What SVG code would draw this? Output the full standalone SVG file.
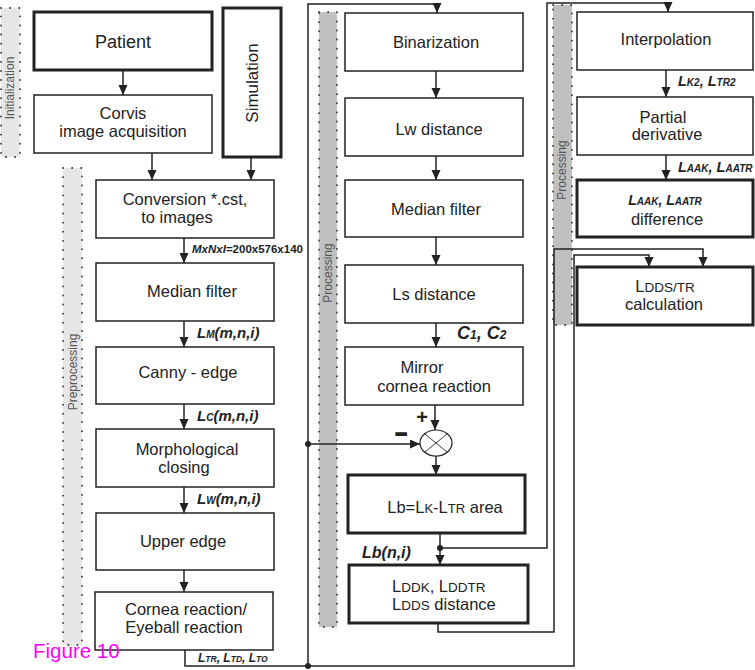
<svg xmlns="http://www.w3.org/2000/svg" width="755" height="670" viewBox="0 0 755 670">
<style>
.box{fill:#fff;stroke:#222;stroke-width:1.5}
.thick{stroke-width:3}
.t{font-family:"Liberation Sans",Arial,sans-serif;font-size:16.5px;fill:#222;text-anchor:middle}
.lbl{font-family:"Liberation Sans",Arial,sans-serif;font-weight:bold;font-style:italic;fill:#222}
.sidel{fill:#e6e6e6}
.sided{fill:#c0c0c0}
.dots{fill:none;stroke:#333;stroke-width:1.8;stroke-dasharray:0.1 9;stroke-linecap:round}
.stxt{font-family:"Liberation Sans",Arial,sans-serif;font-size:12px;fill:#555;text-anchor:middle}
.conn{fill:none;stroke:#222;stroke-width:1.5}
</style>
<defs>
<marker id="ah" markerUnits="userSpaceOnUse" markerWidth="10" markerHeight="10" refX="10" refY="4.5" orient="auto">
<path d="M0,0 L10,4.5 L0,9 z" fill="#222"/>
</marker>
</defs>
<rect width="755" height="670" fill="#fff"/>

<!-- sidebars -->
<g id="side-init">
<rect class="sidel" x="1" y="8" width="19" height="149"/>
<rect class="dots" x="1" y="8" width="19" height="149"/>
<text class="stxt" transform="translate(14,88) rotate(-90)">Initialization</text>
</g>
<g id="side-pre">
<rect class="sidel" x="63" y="168" width="19" height="477"/>
<rect class="dots" x="63" y="168" width="19" height="477"/>
<text class="stxt" transform="translate(77,372) rotate(-90)">Preprocessing</text>
</g>
<g id="side-proc1">
<rect class="sided" x="319" y="12" width="18" height="615"/>
<rect class="dots" x="319" y="12" width="18" height="615"/>
<text class="stxt" transform="translate(332,273) rotate(-90)">Processing</text>
</g>
<g id="side-proc2">
<rect class="sided" x="553" y="5" width="19" height="320"/>
<rect class="dots" x="553" y="5" width="19" height="320"/>
<text class="stxt" transform="translate(566,170) rotate(-90)">Processing</text>
</g>

<!-- connectors -->
<g id="connectors">
<path class="conn" d="M123,70 V95" marker-end="url(#ah)"/>
<path class="conn" d="M152,153 V180" marker-end="url(#ah)"/>
<path class="conn" d="M251,157 V180" marker-end="url(#ah)"/>
<path class="conn" d="M184,238 V263" marker-end="url(#ah)"/>
<path class="conn" d="M184,321 V347" marker-end="url(#ah)"/>
<path class="conn" d="M184,404 V429" marker-end="url(#ah)"/>
<path class="conn" d="M184,487 V513" marker-end="url(#ah)"/>
<path class="conn" d="M184,570 V592" marker-end="url(#ah)"/>
<path class="conn" d="M185,650 V666 H574 V255 H649 V267" marker-end="url(#ah)"/>
<path class="conn" d="M308,666 V4 H437 V13" marker-end="url(#ah)"/>
<path class="conn" d="M308,444 H420" marker-end="url(#ah)"/>
<path class="conn" d="M436,71 V98" marker-end="url(#ah)"/>
<path class="conn" d="M436,156 V180" marker-end="url(#ah)"/>
<path class="conn" d="M436,237 V265" marker-end="url(#ah)"/>
<path class="conn" d="M436,323 V347" marker-end="url(#ah)"/>
<path class="conn" d="M435,405 V430" marker-end="url(#ah)"/>
<path class="conn" d="M436,456 V475" marker-end="url(#ah)"/>
<path class="conn" d="M440,533 V565" marker-end="url(#ah)"/>
<path class="conn" d="M440,548 H547 V3 H668 V12" marker-end="url(#ah)"/>
<path class="conn" d="M438,623 V632 H554 V249 H703 V267" marker-end="url(#ah)"/>
<path class="conn" d="M666,70 V97" marker-end="url(#ah)"/>
<path class="conn" d="M666,155 V180" marker-end="url(#ah)"/>
<circle cx="308" cy="444" r="3" fill="#222"/>
<circle cx="308" cy="666" r="3" fill="#222"/>
<circle cx="440" cy="548" r="3" fill="#222"/>
</g>

<!-- left column -->
<g id="patient"><rect class="box thick" x="34" y="12" width="178" height="58"/><text class="t" x="123" y="48" style="font-size:18px">Patient</text></g>
<g id="corvis"><rect class="box" x="34" y="95" width="178" height="58"/><text class="t" x="123" y="119">Corvis</text><text class="t" x="123" y="137">image acquisition</text></g>
<g id="simulation"><rect class="box thick" x="223" y="8" width="58" height="149"/><text class="t" style="font-size:17px" transform="translate(258,83) rotate(-90)">Simulation</text></g>
<g id="conversion"><rect class="box" x="96" y="180" width="178" height="58"/><text class="t" x="185" y="205">Conversion *.cst,</text><text class="t" x="177" y="223">to images</text></g>
<g id="median1"><rect class="box" x="96" y="263" width="178" height="58"/><text class="t" x="192" y="297">Median filter</text></g>
<g id="canny"><rect class="box" x="96" y="347" width="178" height="57"/><text class="t" x="188" y="378">Canny - edge</text></g>
<g id="morph"><rect class="box" x="96" y="429" width="178" height="58"/><text class="t" x="187" y="455">Morphological</text><text class="t" x="184" y="473">closing</text></g>
<g id="upper"><rect class="box" x="96" y="513" width="178" height="57"/><text class="t" x="183" y="547">Upper edge</text></g>
<g id="cornea"><rect class="box" x="95" y="592" width="178" height="58"/><text class="t" x="186" y="615">Cornea reaction/</text><text class="t" x="184" y="633">Eyeball reaction</text></g>

<!-- left labels -->
<g id="labels-left">
<text class="lbl" x="192" y="253" style="font-size:11.5px">MxNxI<tspan style="font-style:normal">=200x576x140</tspan></text>
<text class="lbl" x="197" y="338" style="font-size:15px">L<tspan style="font-size:10px">M</tspan>(m,n,i)</text>
<text class="lbl" x="197" y="421" style="font-size:15px">L<tspan style="font-size:10px">C</tspan>(m,n,i)</text>
<text class="lbl" x="197" y="504" style="font-size:15px">L<tspan style="font-size:10px">W</tspan>(m,n,i)</text>
<text class="lbl" x="198" y="662" style="font-size:12px">L<tspan style="font-size:8.5px">TR</tspan>, L<tspan style="font-size:8.5px">TD</tspan>, L<tspan style="font-size:8.5px">TO</tspan></text>
</g>

<!-- middle column -->
<g id="binarization"><rect class="box" x="345" y="13" width="178" height="58"/><text class="t" x="436" y="48">Binarization</text></g>
<g id="lw"><rect class="box" x="345" y="98" width="178" height="58"/><text class="t" x="439" y="135">Lw distance</text></g>
<g id="median2"><rect class="box" x="345" y="180" width="178" height="57"/><text class="t" x="436" y="215">Median filter</text></g>
<g id="ls"><rect class="box" x="345" y="265" width="178" height="58"/><text class="t" x="434" y="300">Ls distance</text></g>
<g id="mirror"><rect class="box" x="345" y="347" width="178" height="58"/><text class="t" x="422" y="373">Mirror</text><text class="t" x="434" y="392">cornea reaction</text></g>
<g id="sum">
<ellipse cx="436" cy="443" rx="16" ry="13" fill="#fff" stroke="#222" stroke-width="1.2"/>
<path d="M424.7,433.8 L447.3,452.2 M447.3,433.8 L424.7,452.2" stroke="#222" stroke-width="0.9"/>
<text x="422" y="424" style="font-family:'Liberation Sans',Arial,sans-serif;font-size:20px;font-weight:bold;text-anchor:middle;fill:#222">+</text>
<text x="401" y="441" style="font-family:'Liberation Sans',Arial,sans-serif;font-size:20px;font-weight:bold;text-anchor:middle;fill:#222;stroke:#222;stroke-width:1.6">−</text>
</g>
<g id="lbarea"><rect class="box thick" x="348" y="475" width="177" height="58"/><text class="t" x="445" y="513">Lb=L<tspan style="font-size:13px">K</tspan>-L<tspan style="font-size:13px">TR</tspan> area</text></g>
<g id="lddk"><rect class="box thick" x="349" y="565" width="179" height="58"/><text class="t" x="392" y="592" style="text-anchor:start">L<tspan style="font-size:13.5px">DDK</tspan>, L<tspan style="font-size:13.5px">DDTR</tspan></text><text class="t" x="392" y="610" style="text-anchor:start">L<tspan style="font-size:13.5px">DDS</tspan> distance</text></g>

<g id="labels-mid">
<text class="lbl" x="457" y="339" style="font-size:18px">C<tspan style="font-size:12px">1</tspan>,  C<tspan style="font-size:12px">2</tspan></text>
<text class="lbl" x="362" y="558" style="font-size:16px">Lb(n,i)</text>
</g>

<!-- right column -->
<g id="interpolation"><rect class="box" x="577" y="12" width="176" height="58"/><text class="t" x="666" y="45">Interpolation</text></g>
<g id="partial"><rect class="box" x="577" y="97" width="176" height="58"/><text class="t" x="663" y="123">Partial</text><text class="t" x="667" y="140">derivative</text></g>
<g id="difference"><rect class="box thick" x="577" y="180" width="176" height="57"/><text class="lbl" x="665" y="205" style="font-size:14px;text-anchor:middle">L<tspan style="font-size:10px">AAK</tspan>, L<tspan style="font-size:10px">AATR</tspan></text><text class="t" x="667" y="225">difference</text></g>
<g id="ldds"><rect class="box thick" x="577" y="267" width="176" height="58"/><text class="t" x="665" y="292">L<tspan style="font-size:13.5px">DDS/TR</tspan></text><text class="t" x="664" y="310">calculation</text></g>

<g id="labels-right">
<text class="lbl" x="678" y="86" style="font-size:14.5px">L<tspan style="font-size:10px">K2</tspan>, L<tspan style="font-size:10px">TR2</tspan></text>
<text class="lbl" x="678" y="172" style="font-size:14.5px">L<tspan style="font-size:10px">AAK</tspan>, L<tspan style="font-size:10px">AATR</tspan></text>
</g>

<text x="33" y="658" style="font-family:'Liberation Sans',Arial,sans-serif;font-size:20.5px;fill:#ff00ff">Figure 10</text>
</svg>
